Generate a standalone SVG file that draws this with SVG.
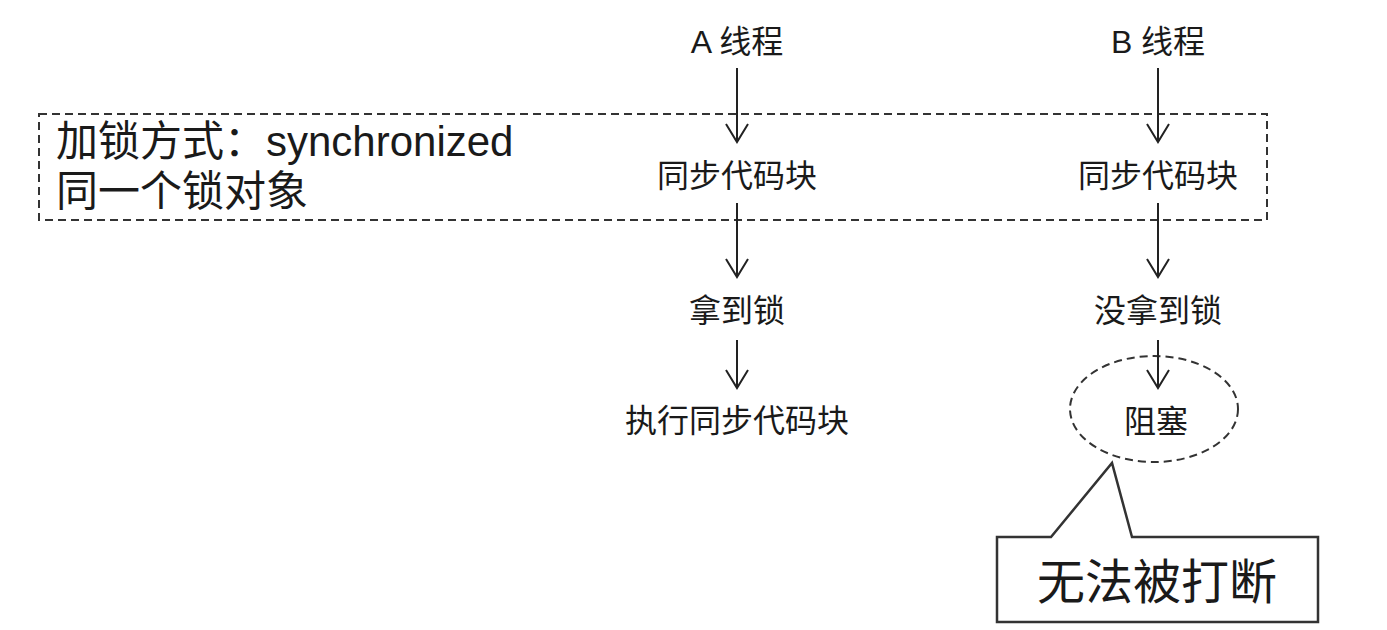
<svg xmlns="http://www.w3.org/2000/svg" width="1387" height="630" viewBox="0 0 1387 630">
<style>
text{font-family:"Liberation Sans","Noto Sans CJK SC",sans-serif;fill:#1a1a1a}
.t{font-size:32px;text-anchor:middle}
.big{font-size:42px}
.dash{stroke:#333;stroke-width:2;stroke-dasharray:8 5;fill:none}
</style>
<rect width="1387" height="630" fill="#fff"/>
<g id="lockbox">
<rect class="dash" x="39" y="114" width="1228" height="106"/>
<text class="big" x="56" y="156">加锁方式：synchronized</text>
<text class="big" x="56" y="206">同一个锁对象</text>
</g>
<g id="a-thread"><text class="t" x="737" y="53">A 线程</text></g>
<g id="a-sync"><text class="t" x="737" y="187">同步代码块</text></g>
<g id="a-lock"><text class="t" x="737" y="322">拿到锁</text></g>
<g id="a-exec"><text class="t" x="737" y="432">执行同步代码块</text></g>
<g id="b-thread"><text class="t" x="1158" y="53">B 线程</text></g>
<g id="b-sync"><text class="t" x="1158" y="187">同步代码块</text></g>
<g id="b-nolock"><text class="t" x="1158" y="322">没拿到锁</text></g>
<g id="b-block">
<ellipse class="dash" cx="1154" cy="409" rx="84" ry="53"/>
<text class="t" x="1156" y="433">阻塞</text>
</g>
<g id="callout">
<path d="M997 537 L1051 537 L1112 463 L1132 537 L1318 537 L1318 622 L997 622 Z" fill="#fff" stroke="#333" stroke-width="2.5"/>
<text x="1157" y="599" style="font-size:48px;text-anchor:middle">无法被打断</text>
</g>
<g id="connectors" stroke="#222" stroke-width="2" fill="none">
<path d="M737 68 V142 M726 124 L737 142 L748 124"/>
<path d="M737 203 V277 M726 259 L737 277 L748 259"/>
<path d="M737 340 V388 M726 370 L737 388 L748 370"/>
<path d="M1158 68 V142 M1147 124 L1158 142 L1169 124"/>
<path d="M1158 203 V277 M1147 259 L1158 277 L1169 259"/>
<path d="M1158 340 V388 M1147 370 L1158 388 L1169 370"/>
</g>
</svg>
